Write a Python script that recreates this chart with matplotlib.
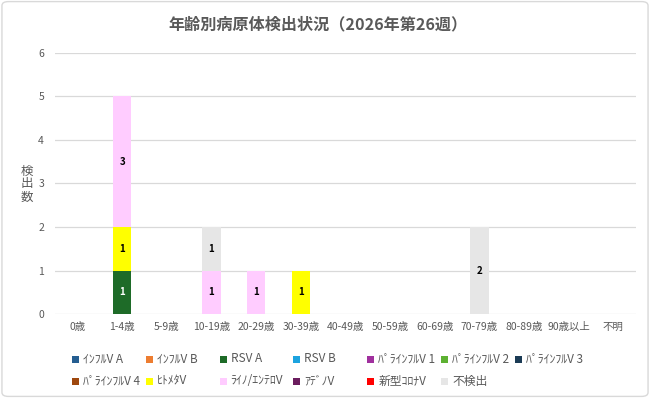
import numpy as np
import matplotlib
matplotlib.use("Agg")
import matplotlib.pyplot as plt
from matplotlib.patches import Rectangle, FancyBboxPatch

plt.rcParams['font.family'] = ['Noto Sans CJK JP', 'DejaVu Sans']

# age groups
ages = ['0歳', '1-4歳', '5-9歳', '10-19歳', '20-29歳', '30-39歳', '40-49歳',
        '50-59歳', '60-69歳', '70-79歳', '80-89歳', '90歳以上', '不明']

# pathogens (legend order)
pathogens = ['ｲﾝﾌﾙV A', 'ｲﾝﾌﾙV B', 'RSV A', 'RSV B', 'ﾊﾟﾗｲﾝﾌﾙV 1', 'ﾊﾟﾗｲﾝﾌﾙV 2',
             'ﾊﾟﾗｲﾝﾌﾙV 3', 'ﾊﾟﾗｲﾝﾌﾙV 4', 'ﾋﾄﾒﾀV', 'ﾗｲﾉ/ｴﾝﾃﾛV', 'ｱﾃﾞﾉV', '新型ｺﾛﾅV', '不検出']
colors = ['#255e91', '#ed7d31', '#1e6b28', '#1ca3df', '#a0309e', '#5db132',
          '#1b3b55', '#9e480e', '#ffff00', '#ffccff', '#6b1d5e', '#ff0000', '#e6e6e6']

# counts per age group (only the pathogens that were found)
rsv_a = [0, 1, 0, 0, 0, 0, 0, 0, 0, 0, 0, 0, 0]
hmpv  = [0, 1, 0, 0, 0, 1, 0, 0, 0, 0, 0, 0, 0]
rhino = [0, 3, 0, 1, 1, 0, 0, 0, 0, 0, 0, 0, 0]
neg   = [0, 0, 0, 1, 0, 0, 0, 0, 0, 2, 0, 0, 0]
zeros = [0] * 13

series = [zeros, zeros, rsv_a, zeros, zeros, zeros, zeros, zeros,
          hmpv, rhino, zeros, zeros, neg]

W, H = 650, 398
fig = plt.figure(figsize=(W / 100, H / 100), dpi=100)
border = FancyBboxPatch((0.003, 0.004), 0.994, 0.992, boxstyle='round,pad=0,rounding_size=0.01',
                        transform=fig.transFigure, fc='none', ec='#d9d9d9', lw=1, zorder=-1)
fig.patches.append(border)
ax = fig.add_axes([0.085, 0.211, 0.893, 0.656])

x = np.arange(len(ages))
bottom = np.zeros(len(ages))
for name, vals, col in zip(pathogens, series, colors):
    vals = np.array(vals, dtype=float)
    bars = ax.bar(x, vals, 0.41, bottom=bottom, color=col, label=name, zorder=3)
    for b, v in zip(bars, vals):
        if v > 0:
            tc = 'white' if name == 'RSV A' else 'black'
            ax.text(b.get_x() + b.get_width() / 2, b.get_y() + v / 2, str(int(v)),
                    ha='center', va='center', fontsize=7, fontweight='bold', color=tc, zorder=4)
    bottom += vals

ax.set_xlim(-0.5, len(ages) - 0.5)
ax.set_ylim(0, 6)
ax.set_yticks(range(7))
ax.set_xticks(x)
ax.set_xticklabels(ages, fontsize=7.5, color='#595959')
ax.tick_params(axis='y', labelsize=7.5, labelcolor='#595959', length=0, pad=8)
ax.tick_params(axis='x', length=0, pad=6)
ax.grid(axis='y', color='#d9d9d9', lw=0.9, zorder=0)
for s in ax.spines.values():
    s.set_visible(False)

fig.suptitle('年齢別病原体検出状況（2026年第26週）', x=318 / W, y=1 - 24 / H, va='center',
             fontsize=11.6, fontweight='bold', color='#595959')
fig.text(27 / W, 1 - 184 / H, '検\n出\n数', fontsize=9, color='#595959', ha='center', va='center',
         linespacing=1.0)

# legend: Excel style, 7 equal columns, two rows
col_w = 73.8
for i, (name, col) in enumerate(zip(pathogens, colors)):
    r, c = divmod(i, 7)
    lx = 72 + c * col_w
    ly = 359 + r * 22
    fig.add_artist(Rectangle((lx / W, 1 - (ly + 3.5) / H), 7 / W, 7 / H,
                             transform=fig.transFigure, fc=col, ec='none'))
    fig.text((lx + 11) / W, 1 - ly / H, name, fontsize=8.5, color='#595959',
             ha='left', va='center')

fig.savefig('out.png', dpi=100)
